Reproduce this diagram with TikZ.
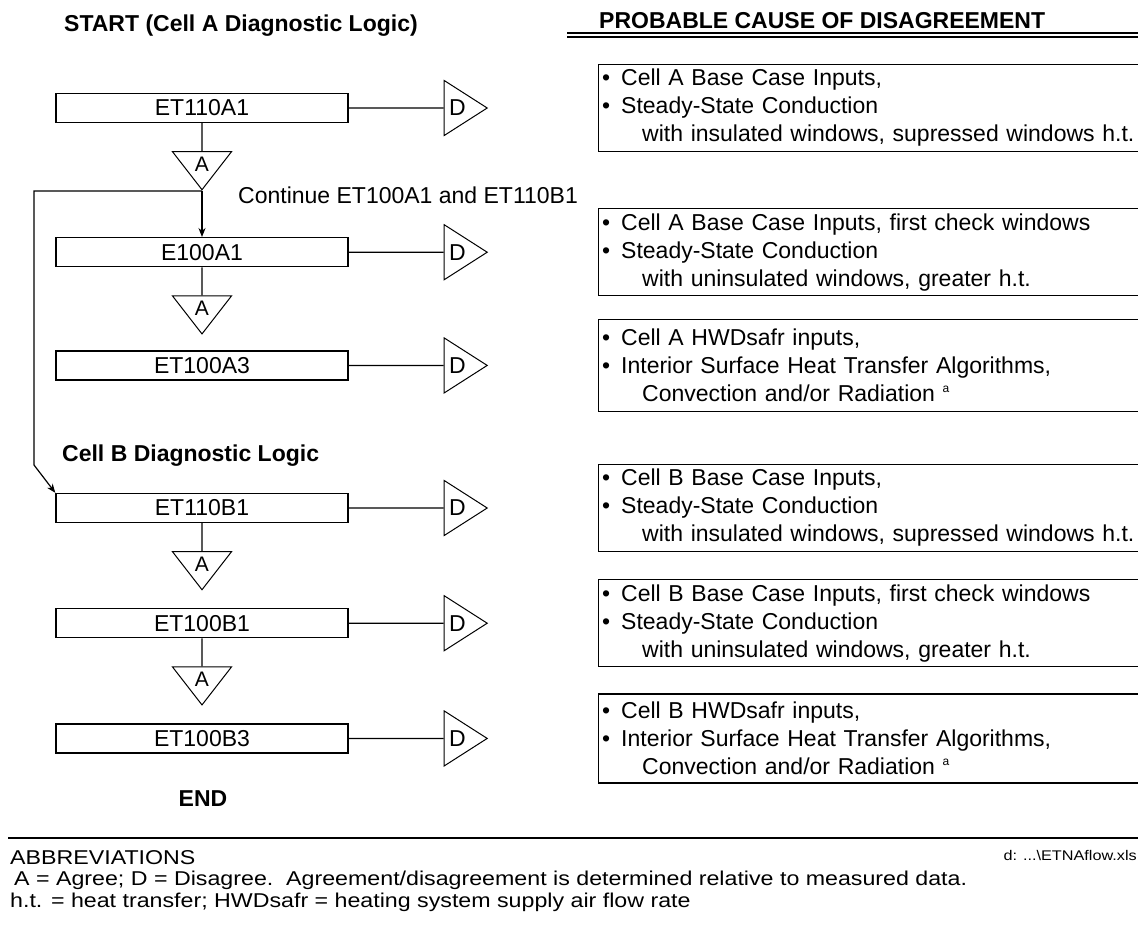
\documentclass[tikz,border=0pt]{standalone}
\usepackage{fontspec}
\setmainfont{Liberation Sans}
\newfontfamily\notefont[FakeStretch=1.16]{Liberation Sans}
\usetikzlibrary{shapes.geometric,positioning,calc,arrows.meta}

\newcommand{\causeitem}[1]{\makebox[19pt][l]{\textbullet}#1}
\newcommand{\causecont}[1]{\hspace*{40pt}#1}
\newcommand{\notea}{ \raisebox{9pt}{\fontsize{12}{12}\selectfont a}}

\begin{document}
\begin{tikzpicture}[
    x=1pt, y=-1pt,
    font=\fontsize{23}{28}\selectfont,
    testbox/.style={rectangle, draw, line width=1.4pt, minimum width=292pt, minimum height=29pt, inner sep=0pt},
    agree/.style={isosceles triangle, isosceles triangle stretches, shape border rotate=-90, draw, line width=1pt, minimum width=59pt, minimum height=38pt, inner sep=0pt, font=\fontsize{21}{21}\selectfont},
    disagree/.style={isosceles triangle, isosceles triangle stretches, draw, line width=1pt, minimum width=55pt, minimum height=43pt, inner sep=0pt},
    cause/.style={rectangle, draw, line width=1.4pt, minimum width=541pt, minimum height=87pt, text width=533pt, inner xsep=4pt, align=left},
    heading/.style={font=\fontsize{23}{28}\selectfont\bfseries, inner sep=0pt},
    note/.style={font=\notefont\fontsize{20}{21}\selectfont, inner sep=0pt},
    link/.style={line width=1.2pt},
    flow/.style={-{Stealth[length=9pt, width=7pt]}, line width=1.2pt}
]
\useasboundingbox (0,0) rectangle (1138,924);

% Headings
\node[heading, anchor=base west] (start) at (64,31) {START (Cell A Diagnostic Logic)};
\node[heading, anchor=base west] (causehead) at (599,28) {PROBABLE CAUSE OF DISAGREEMENT};
\draw[line width=1.5pt] (567,33) -- (1138,33);
\draw[line width=1.5pt] (567,37) -- (1138,37);

% Cell A tests
\node[testbox] (et110a1) at (202,108) {ET110A1};
\node[agree, below=28pt of et110a1] (a1) {A};
\node[testbox, below=46pt of a1.apex] (e100a1) {E100A1};
\node[agree, below=28pt of e100a1] (a2) {A};
\node[testbox, below=15pt of a2.apex] (et100a3) {ET100A3};

\node[anchor=base west, inner sep=0pt] (cont) at (238,203) {Continue ET100A1 and ET110B1};

% Cell B tests
\node[heading, anchor=base west] (cellb) at (62,461) {Cell B Diagnostic Logic};
\node[testbox] (et110b1) at (202,508) {ET110B1};
\node[agree, below=28pt of et110b1] (a3) {A};
\node[testbox, below=17pt of a3.apex] (et100b1) {ET100B1};
\node[agree, below=28pt of et100b1] (a4) {A};
\node[testbox, below=17pt of a4.apex] (et100b3) {ET100B3};
\node[heading, anchor=base] (end) at (203,806) {END};

% Disagree triangles
\foreach \t/\d in {et110a1/d1, e100a1/d2, et100a3/d3, et110b1/d4, et100b1/d5, et100b3/d6} {
  \node[disagree, right=95pt of \t] (\d) {D};
  \draw[link] (\t.east) -- (\d.lower side);
}

% Probable causes
\node[cause, right=109pt of d1] (c1) {\causeitem{Cell A Base Case Inputs,}\\
  \causeitem{Steady-State Conduction}\\
  \causecont{with insulated windows, supressed windows h.t.}};
\node[cause, right=109pt of d2] (c2) {\causeitem{Cell A Base Case Inputs, first check windows}\\
  \causeitem{Steady-State Conduction}\\
  \causecont{with uninsulated windows, greater h.t.}};
\node[cause, right=109pt of d3, minimum height=92pt] (c3) {\causeitem{Cell A HWDsafr inputs,}\\
  \causeitem{Interior Surface Heat Transfer Algorithms,}\\
  \causecont{Convection and/or Radiation\notea}};
\node[cause, right=109pt of d4] (c4) {\causeitem{Cell B Base Case Inputs,}\\
  \causeitem{Steady-State Conduction}\\
  \causecont{with insulated windows, supressed windows h.t.}};
\node[cause, right=109pt of d5] (c5) {\causeitem{Cell B Base Case Inputs, first check windows}\\
  \causeitem{Steady-State Conduction}\\
  \causecont{with uninsulated windows, greater h.t.}};
\node[cause, right=109pt of d6, minimum height=89pt] (c6) {\causeitem{Cell B HWDsafr inputs,}\\
  \causeitem{Interior Surface Heat Transfer Algorithms,}\\
  \causecont{Convection and/or Radiation\notea}};

% Agree paths
\draw[link] (et110a1) -- (a1);
\draw[flow] (a1.apex) -- (e100a1);
\draw[link] (e100a1) -- (a2);
\draw[link] (et110b1) -- (a3);
\draw[link] (et100b1) -- (a4);
\coordinate (loopbend) at (34,465);
\draw[flow] (a1.apex) -- (a1.apex -| loopbend) -- (loopbend) -- (et110b1.north west);

% Abbreviations
\draw[line width=2pt] (8,838) -- (1138,838);
\node[note, anchor=base west] (abbr) at (10,864) {ABBREVIATIONS};
\node[note, anchor=base west] (abbrad) at (14,885) {A = Agree; D = Disagree.\ \ Agreement/disagreement is determined relative to measured data.};
\node[note, anchor=base west] (abbrht) at (10,907) {h.t. = heat transfer; HWDsafr = heating system supply air flow rate};
\node[font=\notefont\fontsize{14}{14}\selectfont, inner sep=0pt, anchor=base east] (file) at (1137,860) {d: ...\textbackslash ETNAflow.xls};

\end{tikzpicture}
\end{document}
